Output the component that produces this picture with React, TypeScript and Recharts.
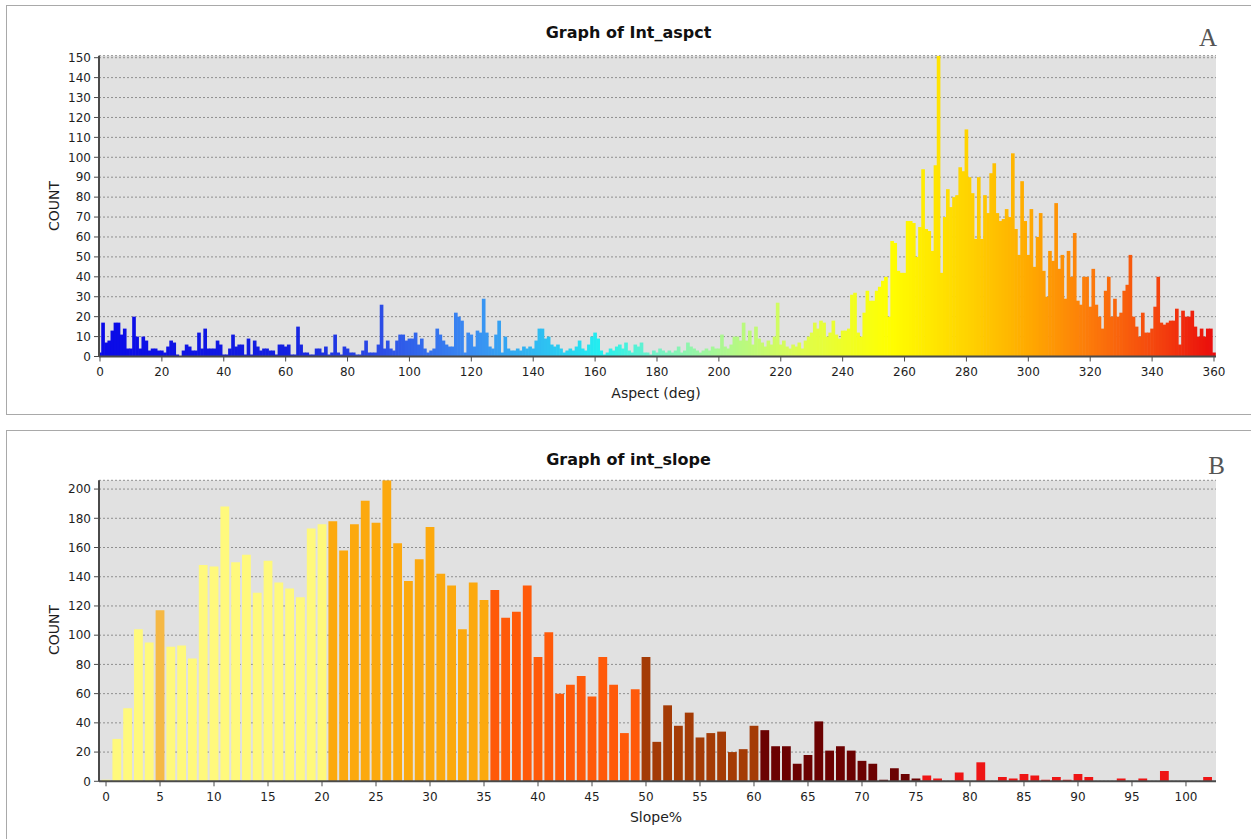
import { BarChart, Bar, XAxis, YAxis, CartesianGrid, Cell } from 'recharts';

// counts per aspect degree, 0..360
const ASPECT_COUNTS = [
  2, 17, 7, 8, 13, 17, 17, 11, 14, 4,
  4, 20, 10, 4, 10, 8, 3, 4, 4, 3,
  3, 2, 5, 8, 7, 1, 0, 3, 6, 5,
  3, 3, 12, 4, 14, 4, 4, 4, 8, 6,
  1, 1, 4, 11, 5, 6, 6, 1, 9, 1,
  8, 5, 3, 4, 4, 3, 3, 1, 6, 6,
  5, 6, 1, 1, 15, 6, 2, 2, 1, 1,
  4, 4, 2, 5, 1, 2, 11, 2, 1, 5,
  4, 2, 2, 1, 1, 3, 8, 2, 2, 2,
  6, 26, 4, 8, 4, 3, 8, 11, 11, 8,
  9, 9, 12, 6, 9, 4, 2, 3, 4, 14,
  11, 8, 6, 5, 5, 22, 20, 18, 2, 12,
  11, 5, 13, 12, 29, 12, 5, 4, 11, 18,
  2, 10, 4, 3, 3, 4, 3, 5, 4, 5,
  4, 8, 14, 14, 9, 10, 6, 5, 6, 4,
  2, 3, 4, 3, 5, 8, 4, 3, 6, 10,
  12, 9, 3, 1, 2, 4, 3, 5, 6, 4,
  7, 3, 2, 6, 5, 7, 2, 2, 1, 3,
  2, 4, 3, 2, 3, 2, 3, 5, 2, 3,
  7, 5, 4, 3, 2, 3, 4, 3, 5, 4,
  4, 11, 5, 4, 6, 10, 10, 8, 17, 8,
  13, 6, 15, 9, 7, 5, 8, 6, 10, 27,
  6, 8, 5, 4, 6, 5, 7, 4, 8, 10,
  12, 17, 14, 18, 17, 10, 12, 18, 11, 9,
  13, 13, 14, 31, 32, 12, 10, 22, 33, 28,
  28, 33, 35, 38, 40, 20, 58, 57, 43, 42,
  42, 68, 68, 67, 50, 65, 94, 64, 63, 53,
  96, 151, 42, 70, 84, 75, 80, 81, 95, 93,
  114, 90, 82, 59, 90, 59, 81, 72, 92, 97,
  72, 68, 69, 74, 70, 102, 64, 51, 88, 68,
  51, 74, 45, 60, 72, 43, 30, 53, 48, 77,
  44, 51, 29, 53, 40, 62, 28, 26, 40, 40,
  25, 44, 26, 20, 14, 33, 40, 20, 29, 20,
  22, 33, 36, 51, 20, 15, 10, 22, 12, 12,
  14, 25, 40, 17, 16, 17, 18, 18, 24, 6,
  23, 20, 20, 23, 15, 10, 14, 10, 14, 14, 2,
];
const ASPECT_TICKS = [0, 20, 40, 60, 80, 100, 120, 140, 160, 180, 200, 220, 240, 260, 280, 300, 320, 340, 360];
const ASPECT_Y_TICKS = [0, 10, 20, 30, 40, 50, 60, 70, 80, 90, 100, 110, 120, 130, 140, 150];

// counts per slope percent, 0..102
const SLOPE_COUNTS = [
  1, 29, 50, 104, 95, 117, 92, 93, 84, 148,
  147, 188, 150, 155, 129, 151, 136, 132, 126, 173,
  176, 178, 158, 176, 192, 177, 206, 163, 137, 152,
  174, 142, 134, 104, 136, 124, 131, 112, 116, 134,
  85, 102, 60, 66, 72, 58, 85, 66, 33, 63,
  85, 27, 52, 38, 47, 30, 33, 34, 20, 22,
  38, 35, 24, 24, 12, 18, 41, 21, 24, 21,
  14, 12, 1, 9, 5, 2, 4, 2, 0, 6,
  0, 13, 0, 3, 2, 5, 4, 1, 3, 1,
  5, 3, 0, 0, 2, 0, 2, 0, 7, 0,
  0, 0, 3,
];
const SLOPE_TICKS = [0, 5, 10, 15, 20, 25, 30, 35, 40, 45, 50, 55, 60, 65, 70, 75, 80, 85, 90, 95, 100];
const SLOPE_Y_TICKS = [0, 20, 40, 60, 80, 100, 120, 140, 160, 180, 200];

// colour ramp used by the aspect raster
const ASPECT_STOPS: [number, string][] = [
  [0, '#0a0ae8'], [60, '#1420e0'], [90, '#2b4be6'], [120, '#3a8cf2'],
  [145, '#2dc3f2'], [162, '#22f0f0'], [180, '#74f2c6'], [200, '#a9f793'],
  [225, '#dcfd52'], [255, '#ffff00'], [280, '#ffd400'], [300, '#ffaa00'],
  [320, '#fc7a0a'], [340, '#f5490e'], [360, '#ea0c0c'],
];

// slope classes (upper bound inclusive)
const SLOPE_CLASSES = [
  { max: 4, color: '#fff97c' },
  { max: 5, color: '#f5b845' },
  { max: 20, color: '#fff97c' },
  { max: 35, color: '#fca90e' },
  { max: 49, color: '#ff5a0a' },
  { max: 60, color: '#a43b06' },
  { max: 75, color: '#6b0202' },
  { max: 999, color: '#ee1515' },
];

const hex = (h: string) => [1, 3, 5].map((i) => parseInt(h.slice(i, i + 2), 16));

function aspectColor(deg: number) {
  for (let i = 1; i < ASPECT_STOPS.length; i++) {
    const [d1, c1] = ASPECT_STOPS[i];
    const [d0, c0] = ASPECT_STOPS[i - 1];
    if (deg <= d1) {
      const t = (deg - d0) / (d1 - d0);
      const a = hex(c0);
      const b = hex(c1);
      const c = a.map((v, k) => Math.round(v + (b[k] - v) * t));
      return `rgb(${c[0]},${c[1]},${c[2]})`;
    }
  }
  return ASPECT_STOPS[ASPECT_STOPS.length - 1][1];
}

function slopeColor(pct: number) {
  return SLOPE_CLASSES.find((c) => pct <= c.max)!.color;
}

// histogram bins touch each other: widen the rect a hair so no seams show
function BinShape(props: any) {
  const { x, y, width, height, fill } = props;
  if (!height || height <= 0) return null;
  return <rect x={x - 0.3} y={y} width={width + 0.6} height={height} fill={fill} />;
}

const tickStyle = { fontFamily: 'DejaVu Sans', fontSize: 12, fill: '#1e1e1e' };
const axisLine = { stroke: '#4a4a4a', strokeWidth: 2 };
const tickLine = { stroke: '#4a4a4a' };
const frameLine = { stroke: '#8a8a8a' };

const abs = (s: React.CSSProperties): React.CSSProperties => ({ position: 'absolute', ...s });
const titleStyle: React.CSSProperties = {
  fontFamily: 'DejaVu Sans', fontWeight: 'bold', fontSize: 16, lineHeight: '18px',
  textAlign: 'center', color: '#111', whiteSpace: 'nowrap',
};
const axisTitle: React.CSSProperties = {
  fontFamily: 'DejaVu Sans', fontSize: 14, lineHeight: '16px', color: '#1e1e1e', whiteSpace: 'nowrap',
};
const letterStyle: React.CSSProperties = {
  fontFamily: 'Liberation Serif', fontSize: 25, lineHeight: '25px', color: '#555', textAlign: 'right',
};

export default function App() {
  const aspectData = ASPECT_COUNTS.map((count, deg) => ({ deg, count }));
  const slopeData = SLOPE_COUNTS.map((count, pct) => ({ pct, count }));

  return (
    <div style={abs({ left: 0, top: 0, width: 1251, height: 839, background: '#fff', overflow: 'hidden' })}>
      {/* panel frames */}
      <div style={abs({ left: 6, top: 5, width: 1260, height: 408, border: '1px solid #a9a9a9' })} />
      <div style={abs({ left: 6, top: 430, width: 1260, height: 440, border: '1px solid #a9a9a9' })} />

      {/* A: aspect */}
      <div style={abs({ left: 0, top: 0 })}>
        <BarChart width={1251} height={420} data={aspectData} margin={{ top: 55.7, right: 35, bottom: 0, left: 0 }}>
          <CartesianGrid vertical={false} fill="#e1e1e1" stroke="#8f8f8f" strokeDasharray="2 2" />
          <XAxis
            dataKey="deg" type="number" domain={[-0.32, 360.65]} allowDataOverflow
            ticks={ASPECT_TICKS} interval={0} height={63.5}
            tick={tickStyle} tickSize={5} tickMargin={6} axisLine={axisLine} tickLine={tickLine}
          />
          <XAxis xAxisId="frame" orientation="top" type="number" domain={[0, 1]} height={0} tick={false} tickLine={false} axisLine={frameLine} />
          <YAxis
            type="number" domain={[0, 151]} allowDataOverflow ticks={ASPECT_Y_TICKS} interval={0} width={99}
            tick={tickStyle} tickSize={5} tickMargin={3} axisLine={axisLine} tickLine={tickLine}
          />
          <YAxis yAxisId="frame" orientation="right" type="number" domain={[0, 1]} width={0} tick={false} tickLine={false} axisLine={frameLine} />
          <Bar dataKey="count" barSize={3.05} shape={BinShape} isAnimationActive={false}>
            {aspectData.map((d) => (
              <Cell key={d.deg} fill={aspectColor(d.deg)} />
            ))}
          </Bar>
        </BarChart>
      </div>
      <div style={abs({ ...titleStyle, left: 0, width: 1257, top: 24 })}>Graph of Int_aspct</div>
      <div style={abs({ ...letterStyle, left: 1150, width: 67, top: 25 })}>A</div>
      <div style={abs({ ...axisTitle, left: 556, width: 200, textAlign: 'center', top: 385 })}>Aspect (deg)</div>
      <div style={abs({ ...axisTitle, left: 54, top: 206, transform: 'translate(-50%, -50%) rotate(-90deg)' })}>COUNT</div>

      {/* B: slope */}
      <div style={abs({ left: 0, top: 420 })}>
        <BarChart width={1251} height={419} data={slopeData} margin={{ top: 60.3, right: 35, bottom: 0, left: 0 }}>
          <CartesianGrid vertical={false} fill="#e1e1e1" stroke="#8f8f8f" strokeDasharray="2 2" />
          <XAxis
            dataKey="pct" type="number" domain={[-0.65, 102.78]} allowDataOverflow
            ticks={SLOPE_TICKS} interval={0} height={57.7}
            tick={tickStyle} tickSize={5} tickMargin={6} axisLine={axisLine} tickLine={tickLine}
          />
          <XAxis xAxisId="frame" orientation="top" type="number" domain={[0, 1]} height={0} tick={false} tickLine={false} axisLine={frameLine} />
          <YAxis
            type="number" domain={[0, 206]} allowDataOverflow ticks={SLOPE_Y_TICKS} interval={0} width={99}
            tick={tickStyle} tickSize={5} tickMargin={3} axisLine={axisLine} tickLine={tickLine}
          />
          <YAxis yAxisId="frame" orientation="right" type="number" domain={[0, 1]} width={0} tick={false} tickLine={false} axisLine={frameLine} />
          <Bar dataKey="count" barSize={8.8} isAnimationActive={false}>
            {slopeData.map((d) => (
              <Cell key={d.pct} fill={slopeColor(d.pct)} />
            ))}
          </Bar>
        </BarChart>
      </div>
      <div style={abs({ ...titleStyle, left: 0, width: 1257, top: 451 })}>Graph of int_slope</div>
      <div style={abs({ ...letterStyle, left: 1150, width: 75, top: 453 })}>B</div>
      <div style={abs({ ...axisTitle, left: 556, width: 200, textAlign: 'center', top: 809 })}>Slope%</div>
      <div style={abs({ ...axisTitle, left: 54, top: 630, transform: 'translate(-50%, -50%) rotate(-90deg)' })}>COUNT</div>
    </div>
  );
}
